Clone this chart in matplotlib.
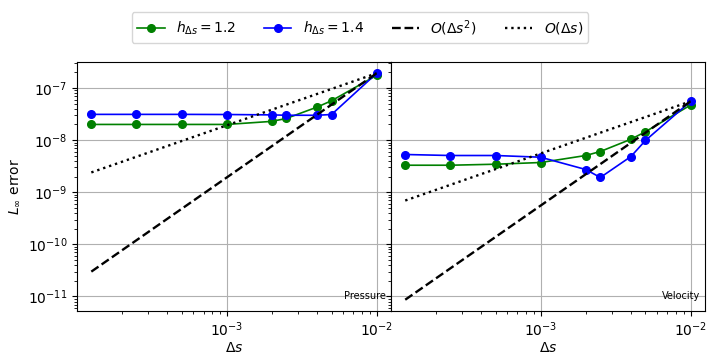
import numpy as np
import matplotlib.pyplot as plt

ds = np.array([1.25e-4, 2.5e-4, 5e-4, 1e-3, 2e-3, 2.5e-3, 4e-3, 5e-3, 1e-2])

p_h12 = [2.0e-8, 2.0e-8, 2.0e-8, 2.0e-8, 2.29e-8, 2.61e-8, 4.3e-8, 5.7e-8, 1.75e-7]
p_h14 = [3.12e-8, 3.12e-8, 3.12e-8, 3.1e-8, 3.05e-8, 3.0e-8, 3.0e-8, 3.1e-8, 1.92e-7]

v_h12 = [3.3e-9, 3.3e-9, 3.45e-9, 3.72e-9, 5.07e-9, 6.05e-9, 1.04e-8, 1.45e-8, 4.71e-8]
v_h14 = [5.3e-9, 5.07e-9, 5.07e-9, 4.7e-9, 2.73e-9, 1.92e-9, 4.85e-9, 9.86e-9, 5.55e-8]

panels = [('Pressure', p_h12, p_h14), ('Velocity', v_h12, v_h14)]

fs = 10

fig, axes = plt.subplots(1, 2, figsize=(7.2, 3.6), dpi=100, sharey=True)
fig.subplots_adjust(left=0.107, right=0.979, top=0.828, bottom=0.136, wspace=0)

for ax, (name, e12, e14) in zip(axes, panels):
    ax.loglog(ds, e12, 'o-', color='green', lw=1.2, ms=5.5, label=r'$h_{\Delta s}=1.2$')
    ax.loglog(ds, e14, 'o-', color='blue', lw=1.2, ms=5.5, label=r'$h_{\Delta s}=1.4$')
    ref = max(e12[-1], e14[-1])
    ax.loglog(ds, ref * (ds / ds[-1]) ** 2, 'k--', lw=1.7, label=r'$O(\Delta s^2)$')
    ax.loglog(ds, ref * (ds / ds[-1]), 'k:', lw=1.7, label=r'$O(\Delta s)$')
    ax.grid(True, which='major', color='#b0b0b0', lw=0.8)
    ax.set_xlabel(r'$\Delta s$', fontsize=fs, labelpad=1)
    ax.tick_params(labelsize=fs)
    ax.text(0.985, 0.04, name, transform=ax.transAxes, ha='right', va='bottom', fontsize=7)

axes[0].set_ylabel(r'$L_\infty$ error', fontsize=fs)

handles, labels = axes[0].get_legend_handles_labels()
fig.legend(handles, labels, loc='upper center', ncol=4, fontsize=fs,
           bbox_to_anchor=(0.5, 0.985))

plt.savefig('out.png', dpi=100)
